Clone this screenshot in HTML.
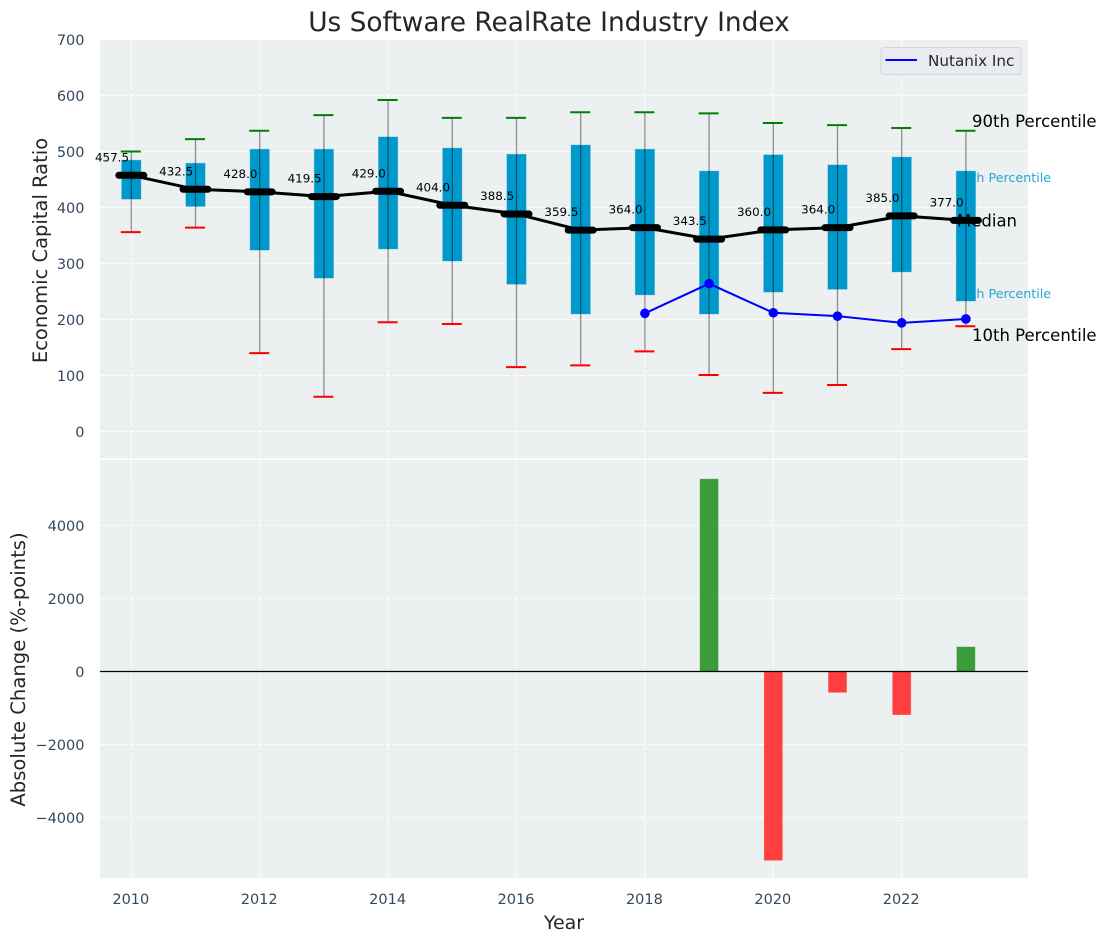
<!DOCTYPE html>
<html>
<head>
<meta charset="utf-8">
<title>Us Software RealRate Industry Index</title>
<style>
html,body{margin:0;padding:0;background:#fff;width:1107px;height:942px;overflow:hidden}
svg{display:block;font-family:"DejaVu Sans","Liberation Sans",sans-serif}
</style>
</head>
<body>
<svg id="chart" xmlns="http://www.w3.org/2000/svg" width="1107" height="942" viewBox="0 0 1107 942">
<rect width="1107" height="942" fill="#ffffff"/>
<rect x="100" y="40" width="928" height="418.5" fill="#ecf0f1"/>
<rect x="100" y="460" width="928" height="418" fill="#ecf0f1"/>
<g id="grid"></g>
<text x="549" y="31" text-anchor="middle" font-size="26.4" fill="#262626">Us Software RealRate Industry Index</text>
<text transform="translate(47,250.5) rotate(-90)" text-anchor="middle" font-size="19.5" fill="#262626">Economic Capital Ratio</text>
<text transform="translate(25,669.5) rotate(-90)" text-anchor="middle" font-size="19.6" fill="#262626">Absolute Change (%-points)</text>
<text x="564" y="929" text-anchor="middle" font-size="19" fill="#262626">Year</text>
<text x="955.3" y="182" font-size="12.7" fill="#0099cc" fill-opacity="0.85">75th Percentile</text>
<text x="955.3" y="298" font-size="12.7" fill="#0099cc" fill-opacity="0.85">25th Percentile</text>
<g id="ticks"></g>
<g id="marks"></g>
<text x="972" y="127" font-size="16.5" fill="#000">90th Percentile</text>
<text x="957" y="226.5" font-size="16.5" fill="#000">Median</text>
<text x="972" y="341" font-size="16.5" fill="#000">10th Percentile</text>
<g>
<rect x="880.8" y="47.5" width="140.5" height="27" rx="3" fill="#e9ebf0" stroke="#d4d7da" stroke-width="1"/>
<line x1="885.5" x2="917" y1="60" y2="60" stroke="#0000ff" stroke-width="2"/>
<text x="928" y="66" font-size="15.2" fill="#262626">Nutanix Inc</text>
</g>
</svg>
<script>
const years = [2010,2011,2012,2013,2014,2015,2016,2017,2018,2019,2020,2021,2022,2023];
const p10 = [356,364,140,62,195,192,115,118,143,101,69,83,147,188];
const p25 = [415,402,324,274,326,304.5,263,210,244,210,249,254,285,233];
const medians = [457.5,432.5,428,419.5,429,404,388.5,359.5,364,343.5,360,364,385,377];
const p75 = [484.5,479,504,504,526,506,495,511.5,504,465,494,476,490,465];
const p90 = [500,522,537,565,592,560,560,570,570,568,551,547,542,537];
const nutanixYears = [2018,2019,2020,2021,2022,2023];
const nutanixValues = [211,264,212,206,194,201];
const changeYears = [2019,2020,2021,2022,2023];
const changeValues = [5270,-5170,-570,-1180,670];
const xTicks = [2010,2012,2014,2016,2018,2020,2022];
const topTicks = [0,100,200,300,400,500,600,700];
const bottomTicks = [-4000,-2000,0,2000,4000];

const NS = 'http://www.w3.org/2000/svg';
const xS = v => 131.3 + (v - 2010) * 64.2;
const yTop = v => 431.5 - v * 0.56;
const yBot = v => 671.5 - v * 0.0365;
const BOX_W = 0.3;

function mk(parent, tag, attrs, txt) {
  const el = document.createElementNS(NS, tag);
  for (const k in attrs) el.setAttribute(k, attrs[k]);
  if (txt !== undefined) el.textContent = txt;
  parent.appendChild(el);
  return el;
}
const grid = document.getElementById('grid');
const ticks = document.getElementById('ticks');
const marks = document.getElementById('marks');
const gridStyle = {stroke:'#ffffff','stroke-width':1.1,'stroke-dasharray':'5 2.5','stroke-opacity':0.9};

xTicks.forEach(v => {
  const a = mk(grid,'line',{x1:xS(v),x2:xS(v),y1:40,y2:458.5,...gridStyle});
  
  
  const b = mk(grid,'line',{x1:xS(v),x2:xS(v),y1:460,y2:878,...gridStyle});
  
  
  const t = mk(ticks,'text',{x:xS(v)-0.5,y:904,'text-anchor':'middle','font-size':14.5,fill:'#34495e'},String(v));
  
  
});
topTicks.forEach(v => {
  const l = mk(grid,'line',{x1:100,x2:1028,y1:yTop(v),y2:yTop(v),...gridStyle});
  
  
  const t = mk(ticks,'text',{x:84.5,y:yTop(v)+5.5,'text-anchor':'end','font-size':14.5,fill:'#34495e'},String(v));
  
  
});
bottomTicks.forEach(v => {
  const l = mk(grid,'line',{x1:100,x2:1028,y1:yBot(v),y2:yBot(v),...gridStyle});
  
  
  const label = v < 0 ? '\u2212' + Math.abs(v) : String(v);
  const t = mk(ticks,'text',{x:84.5,y:yBot(v)+5.5,'text-anchor':'end','font-size':14.5,fill:'#34495e'},label);
  
  
});

years.forEach((yr,i) => {
  const cx = xS(yr), hw = BOX_W * 64.2 / 2;
  const box = mk(marks,'rect',{x:cx-hw,y:yTop(p75[i]),width:hw*2,height:yTop(p25[i])-yTop(p75[i]),fill:'#0099cc',stroke:'#0099cc','stroke-opacity':0.3,'stroke-width':1});
  
  
  const w = mk(marks,'line',{x1:cx,x2:cx,y1:yTop(p90[i]),y2:yTop(p10[i]),stroke:'#000','stroke-opacity':0.42,'stroke-width':1.3});
  
  
  const c1 = mk(marks,'line',{x1:cx-10.5,x2:cx+9.5,y1:yTop(p90[i]),y2:yTop(p90[i]),stroke:'#008000','stroke-width':2});
  
  
  const c2 = mk(marks,'line',{x1:cx-10.5,x2:cx+9.5,y1:yTop(p10[i]),y2:yTop(p10[i]),stroke:'#ff0000','stroke-width':2});
  
  
});

const medLine = mk(marks,'polyline',{points:years.map((yr,i)=>xS(yr)+','+yTop(medians[i])).join(' '),fill:'none',stroke:'#000','stroke-width':3});



years.forEach((yr,i) => {
  const cx = xS(yr), cy = yTop(medians[i]);
  const m = mk(marks,'line',{x1:cx-12.5,x2:cx+12.5,y1:cy,y2:cy,stroke:'#000','stroke-width':7,'stroke-linecap':'round'});
  
  
  const t = mk(marks,'text',{x:cx-19.3,y:cy-14,'text-anchor':'middle','font-size':11.9,fill:'#000'},medians[i].toFixed(1));
  
  
});

const nLine = mk(marks,'polyline',{points:nutanixYears.map((yr,i)=>xS(yr)+','+yTop(nutanixValues[i])).join(' '),fill:'none',stroke:'#0000ff','stroke-width':2});


nutanixYears.forEach((yr,i) => {
  const p = mk(marks,'circle',{cx:xS(yr),cy:yTop(nutanixValues[i]),r:4.8,fill:'#0000ff'});
  
  
});

changeYears.forEach((yr,i) => {
  const v = changeValues[i];
  const y0 = yBot(Math.max(v,0)), y1 = yBot(Math.min(v,0));
  const col = v >= 0 ? '#3b9c3c' : '#ff3f3f';
  const b = mk(marks,'rect',{x:xS(yr)-9,y:y0,width:18,height:y1-y0,fill:col,stroke:col,'stroke-opacity':0.6,'stroke-width':0.8});
  
  
});
const zero = mk(marks,'line',{x1:100,x2:1028,y1:yBot(0),y2:yBot(0),stroke:'#000','stroke-width':1.3});


</script>
</body>
</html>
